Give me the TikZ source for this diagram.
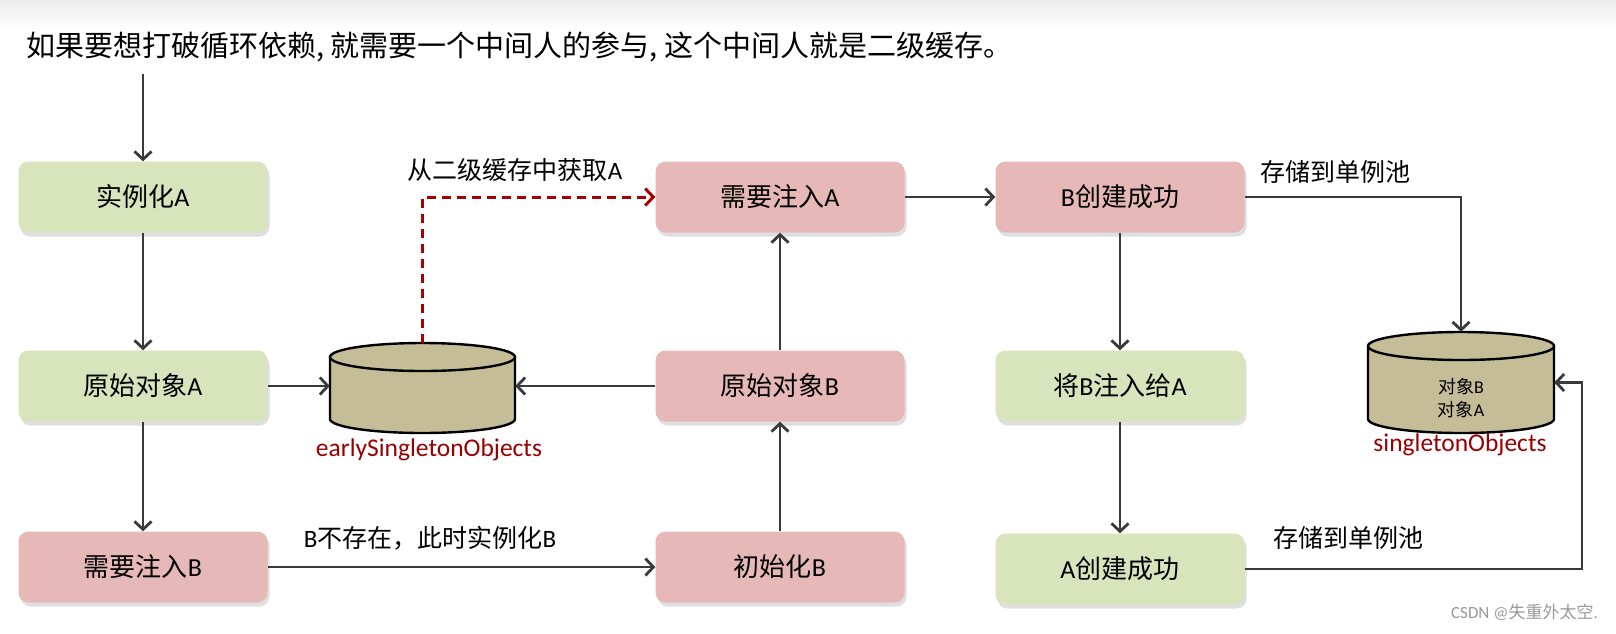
\documentclass[tikz,border=0pt]{standalone}
\usepackage{fontspec}
\setmainfont{Carlito}
\newfontfamily\cjk{Noto Sans CJK SC}
\usetikzlibrary{arrows.meta,shadows}
\definecolor{boxgreen}{HTML}{D8E4BC}
\definecolor{boxred}{HTML}{E6B9B8}
\definecolor{cylfill}{HTML}{C4BD97}
\definecolor{linegray}{HTML}{3A3A3A}
\definecolor{lblred}{HTML}{9A0000}
\definecolor{dashred}{HTML}{A80000}
\newcommand\fsz[1]{\fontsize{#1}{#1}\selectfont}
\tikzset{
  basebox/.style={rounded corners=10pt, minimum width=249pt, minimum height=71pt, inner sep=0pt,
    font=\fsz{26}, drop shadow={opacity=0.25, shadow xshift=2pt, shadow yshift=-4pt}},
  gbox/.style={basebox, fill=boxgreen},
  rbox/.style={basebox, fill=boxred},
  conn/.style={draw=linegray, line width=2.8pt, -{Straight Barb[length=8pt,width=17pt]}},
  dconn/.style={draw=dashred, line width=3pt, dash pattern=on 9pt off 6pt, -{Straight Barb[length=8pt,width=17pt]}},
  lbl/.style={font=\fsz{25}, inner sep=0pt},
  cyllbl/.style={font=\fsz{25.5}, text=lblred, inner sep=0pt},
  cylline/.style={draw=black, line width=2.4pt, fill=cylfill},
  holder/.style={inner sep=0pt, draw=none}
}
\begin{document}
\begin{tikzpicture}[x=1pt,y=-1pt]
\useasboundingbox (0,0) rectangle (1616,633);
\fill[white] (0,0) rectangle (1616,633);
\shade[top color=black!8, bottom color=white] (0,0) rectangle (1616,28);

\node[anchor=west, font=\fsz{29}, inner sep=0pt] (title) at (26,47) {\cjk 如果要想打破循环依赖, 就需要一个中间人的参与, 这个中间人就是二级缓存。};

% boxes
\node[gbox] (a1) at (143,197) {{\cjk 实例化}A};
\node[gbox] (a2) at (143,386) {{\cjk 原始对象}A};
\node[rbox] (a3) at (143,567) {{\cjk 需要注入}B};
\node[rbox] (b1) at (780,197) {{\cjk 需要注入}A};
\node[rbox] (b2) at (780,386) {{\cjk 原始对象}B};
\node[rbox] (b3) at (780,567) {{\cjk 初始化}B};
\node[rbox] (d1) at (1120,197) {B{\cjk 创建成功}};
\node[gbox] (d2) at (1120,386) {{\cjk 将}B{\cjk 注入给}A};
\node[gbox] (d3) at (1120,569) {A{\cjk 创建成功}};

% cylinder 1
\draw[cylline] (330,357) -- (330,419) arc[start angle=180,end angle=0,x radius=92.5,y radius=14] -- (515,357);
\draw[cylline] (422.5,357) ellipse [x radius=92.5, y radius=14];
\node[holder, minimum width=185pt, minimum height=90pt] (c1) at (422.5,388) {};
\node[cyllbl] (c1l) at (429,450) {earlySingletonObjects};

% cylinder 2
\draw[cylline] (1368,346) -- (1368,419) arc[start angle=180,end angle=0,x radius=93,y radius=14] -- (1554,346);
\draw[cylline] (1461,346) ellipse [x radius=93, y radius=14];
\node[holder, minimum width=186pt, minimum height=101pt] (c2) at (1461,382.5) {};
\node[font=\fsz{18}, inner sep=0pt] (c2a) at (1461,387) {{\cjk 对象}B};
\node[font=\fsz{18}, inner sep=0pt] (c2b) at (1461,410) {{\cjk 对象}A};
\node[cyllbl] (c2l) at (1460,445) {singletonObjects};

% labels
\node[lbl] (l1) at (515,170) {{\cjk 从二级缓存中获取}A};
\node[lbl] (l2) at (1335,172) {\cjk 存储到单例池};
\node[lbl] (l3) at (1348,538) {\cjk 存储到单例池};
\node[lbl] (l4) at (430,538) {B{\cjk 不存在，此时实例化}B};
\node[font=\fsz{17}, text=black!40, inner sep=0pt, anchor=east] (wm) at (1598,612) {CSDN @{\cjk 失重外太空}.};

% connectors
\coordinate (s0) at (143,74);
\coordinate (k) at (1582,0);
\draw[conn] (s0) -- (a1.north);
\draw[conn] (a1) -- (a2);
\draw[conn] (a2) -- (a3);
\draw[conn] (a2.east) -- (a2.east -| c1.west);
\draw[conn] (b2.west) -- (b2.west -| c1.east);
\draw[conn] (a3) -- (b3);
\draw[conn] (b3) -- (b2);
\draw[conn] (b2) -- (b1);
\draw[dconn] (c1.north) |- (b1.west);
\draw[conn] (b1) -- (d1);
\draw[conn] (d1.east) -| (c2.north);
\draw[conn] (d1) -- (d2);
\draw[conn] (d2) -- (d3);
\draw[conn] (d3.east) -- (d3.east -| k) |- (c2.east);
\end{tikzpicture}
\end{document}
